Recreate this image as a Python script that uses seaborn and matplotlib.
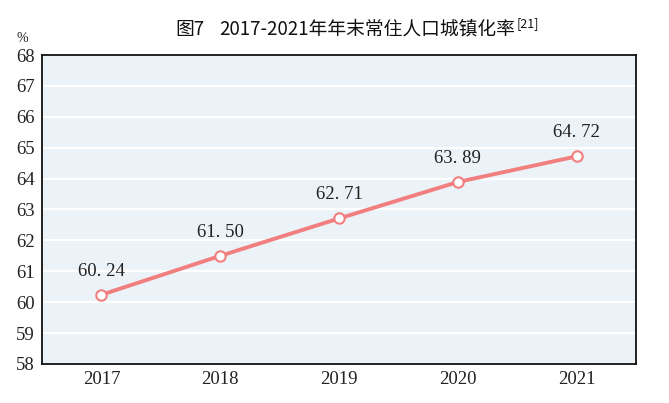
import pandas as pd
import numpy as np
import seaborn as sns
import matplotlib.pyplot as plt

years = ["2017", "2018", "2019", "2020", "2021"]
rates = [60.24, 61.50, 62.71, 63.89, 64.72]
rate_labels = ["60. 24", "61. 50", "62. 71", "63. 89", "64. 72"]
y_ticks = list(range(58, 69))

df = pd.DataFrame({"year": years, "rate": rates})

sns.set_style("white")
plt.rcParams["font.family"] = ["Liberation Serif", "Noto Sans CJK SC"]

fig = plt.figure(figsize=(6.69, 4.03), dpi=100)
ax = fig.add_axes([0.0628, 0.0968, 0.8879, 0.7667])
ax.set_facecolor("#EBF3F8")

line_color = "#F27F7F"
sns.lineplot(data=df, x="year", y="rate", ax=ax, color=line_color, linewidth=2.8,
             marker="o", markersize=7.5, markerfacecolor="white",
             markeredgecolor=line_color, markeredgewidth=1.5, zorder=3)

for i, (v, lab) in enumerate(zip(rates, rate_labels)):
    ax.annotate(lab, (i, v), xytext=(0, 11), textcoords="offset points",
                ha="center", va="bottom", fontsize=13.5, color="#222222")

ax.set_xlim(-0.5, len(years) - 0.5)
ax.set_ylim(58, 68)
ax.set_yticks(y_ticks)
ax.set_yticklabels([str(t) for t in y_ticks], fontsize=13.5, color="#222222")
ax.set_xticks(range(len(years)))
ax.set_xticklabels(years, fontsize=13.5, color="#222222")
ax.tick_params(axis="x", length=0, pad=5)
ax.set_xticks([i + 0.5 for i in range(len(years) - 1)], minor=True)
ax.tick_params(axis="x", which="minor", direction="in", length=5, width=1.2, color="#111111")
ax.tick_params(axis="y", direction="in", length=5, width=1.2, color="#111111", pad=5)
ax.yaxis.grid(True, color="white", linewidth=1.6)
ax.set_axisbelow(True)
ax.set_xlabel("")
ax.set_ylabel("")
for s in ax.spines.values():
    s.set_visible(True)
    s.set_color("#111111")
    s.set_linewidth(1.3)

fig.text(0.033, 0.905, "%", fontsize=10, ha="center", va="center", color="#222222")
fig.text(0.262, 0.928, "图7", fontsize=13.5, ha="left", va="center", weight="medium",
         family=["Noto Sans CJK SC"], color="#111111")
title = fig.text(0.328, 0.928, "2017-2021年年末常住人口城镇化率", fontsize=13.5, ha="left",
                 va="center", weight="medium", family=["Noto Sans CJK SC"], color="#111111")
fig.canvas.draw()
bb = title.get_window_extent(fig.canvas.get_renderer())
fig.text(bb.x1 / fig.bbox.width + 0.002, 0.942, "[21]", fontsize=9, ha="left", va="center",
         family=["Noto Sans CJK SC"], color="#111111")

fig.savefig("out.png", dpi=100)
